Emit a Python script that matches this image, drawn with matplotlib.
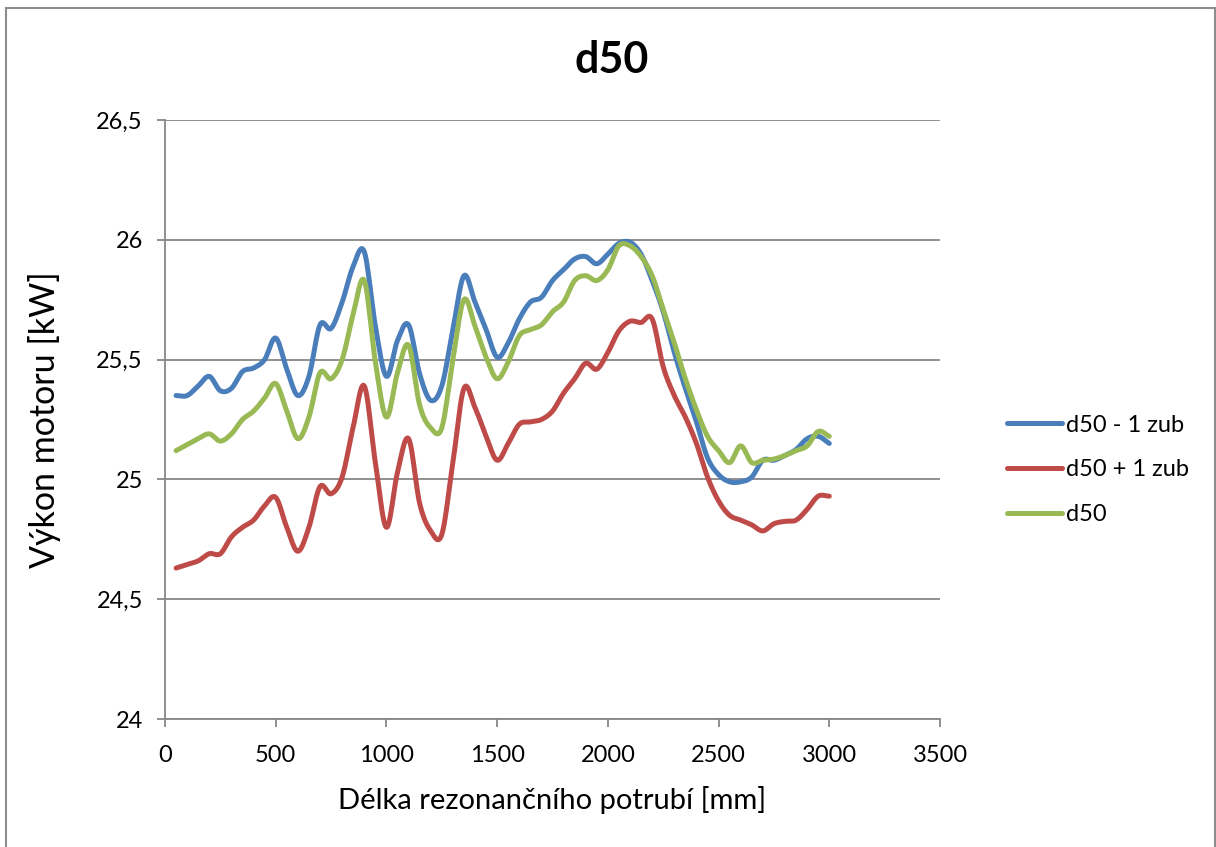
import numpy as np
import matplotlib
matplotlib.use("Agg")
import matplotlib.pyplot as plt
from matplotlib.patches import Rectangle

# Resonance pipe length [mm]
lengths = list(range(50, 3001, 50))

# Engine power [kW] for each variant
power_minus1 = [25.35, 25.35, 25.39, 25.43, 25.37, 25.38, 25.45, 25.465, 25.50, 25.59,
                25.46, 25.35, 25.43, 25.645, 25.63, 25.74, 25.89, 25.95, 25.64, 25.43,
                25.58, 25.645, 25.44, 25.33, 25.39, 25.625, 25.85, 25.74, 25.625, 25.51,
                25.57, 25.67, 25.74, 25.76, 25.83, 25.875, 25.92, 25.93, 25.90, 25.94,
                25.985, 25.99, 25.94, 25.83, 25.70, 25.53, 25.38, 25.24, 25.09, 25.02,
                24.99, 24.99, 25.01, 25.08, 25.08, 25.10, 25.125, 25.17, 25.18, 25.15]

power_plus1 = [24.63, 24.645, 24.66, 24.69, 24.69, 24.76, 24.80, 24.83, 24.89, 24.925,
               24.80, 24.70, 24.80, 24.97, 24.94, 25.01, 25.22, 25.39, 25.07, 24.80,
               25.03, 25.17, 24.90, 24.785, 24.77, 25.07, 25.38, 25.30, 25.18, 25.08,
               25.15, 25.23, 25.24, 25.25, 25.285, 25.36, 25.42, 25.485, 25.46, 25.53,
               25.62, 25.66, 25.655, 25.67, 25.47, 25.35, 25.26, 25.15, 25.01, 24.91,
               24.85, 24.83, 24.81, 24.785, 24.815, 24.825, 24.83, 24.875, 24.93, 24.93]

power_base = [25.12, 25.145, 25.17, 25.19, 25.16, 25.19, 25.25, 25.285, 25.34, 25.40,
              25.285, 25.17, 25.26, 25.445, 25.42, 25.50, 25.69, 25.83, 25.49, 25.26,
              25.445, 25.56, 25.31, 25.215, 25.215, 25.50, 25.75, 25.64, 25.51, 25.42,
              25.49, 25.60, 25.625, 25.645, 25.70, 25.74, 25.83, 25.85, 25.83, 25.875,
              25.975, 25.975, 25.93, 25.85, 25.71, 25.57, 25.42, 25.29, 25.18, 25.12,
              25.07, 25.14, 25.07, 25.08, 25.085, 25.10, 25.12, 25.14, 25.20, 25.18]

series_names = ["d50 - 1 zub", "d50 + 1 zub", "d50"]
series_colors = ["#4A7EBB", "#BE4B48", "#98B954"]

x_ticks = [0, 500, 1000, 1500, 2000, 2500, 3000, 3500]
y_ticks = [24, 24.5, 25, 25.5, 26, 26.5]
y_tick_labels = ["24", "24,5", "25", "25,5", "26", "26,5"]


def smooth(xs, ys, n=12):
    """Catmull-Rom spline through the points (smoothed line)."""
    xs = np.asarray(xs, float)
    ys = np.asarray(ys, float)
    px = np.concatenate([[2 * xs[0] - xs[1]], xs, [2 * xs[-1] - xs[-2]]])
    py = np.concatenate([[2 * ys[0] - ys[1]], ys, [2 * ys[-1] - ys[-2]]])
    outx, outy = [], []
    t = np.linspace(0, 1, n, endpoint=False)
    for i in range(1, len(px) - 2):
        for arr, out in ((px, outx), (py, outy)):
            p0, p1, p2, p3 = arr[i - 1], arr[i], arr[i + 1], arr[i + 2]
            out.extend(0.5 * ((2 * p1) + (-p0 + p2) * t
                              + (2 * p0 - 5 * p1 + 4 * p2 - p3) * t ** 2
                              + (-p0 + 3 * p1 - 3 * p2 + p3) * t ** 3))
    outx.append(xs[-1])
    outy.append(ys[-1])
    return np.array(outx), np.array(outy)


plt.rcParams["font.family"] = ["Lato", "DejaVu Sans"]

fig = plt.figure(figsize=(12.16, 8.47), dpi=100)
ax = fig.add_axes([165 / 1216, 1 - 719 / 847, 775 / 1216, 599 / 847])

for ys, name, col in zip([power_minus1, power_plus1, power_base], series_names, series_colors):
    sx, sy = smooth(lengths, ys)
    ax.plot(sx, sy, color=col, lw=3.6, label=name, solid_capstyle="round",
            solid_joinstyle="round")

ax.set_xlim(0, 3500)
ax.set_ylim(24, 26.5)
ax.set_xticks(x_ticks)
ax.set_xticklabels([str(v) for v in x_ticks])
ax.set_yticks(y_ticks)
ax.set_yticklabels(y_tick_labels)

grid_col = "#878787"
ax.yaxis.grid(True, color=grid_col, lw=1.3)
ax.set_axisbelow(True)
for side in ("top", "right"):
    ax.spines[side].set_visible(False)
for side in ("left", "bottom"):
    ax.spines[side].set_color(grid_col)
    ax.spines[side].set_linewidth(1.3)
ax.tick_params(axis="both", colors=grid_col, width=1.3, length=6, labelsize=17,
               labelcolor="black", direction="out")
ax.tick_params(axis="y", pad=10)
ax.tick_params(axis="x", pad=13)

ax.set_xlabel("Délka rezonančního potrubí [mm]", fontsize=21, va="center")
ax.xaxis.set_label_coords((552 - 165) / 775, (719 - 800) / 599)
ax.set_ylabel("Výkon motoru [kW]", fontsize=24.5, va="center", ha="center")
ax.yaxis.set_label_coords((45 - 165) / 775, 0.5)

fig.text(612 / 1216, 1 - 60 / 847, "d50", ha="center", va="center",
         fontsize=31, fontweight="bold")

leg = ax.legend(loc="center left", bbox_to_anchor=(1.074, 0.416), frameon=False,
                fontsize=17, handlelength=2.35, handletextpad=0.15, labelspacing=1.0,
                borderaxespad=0)
for h in leg.get_lines():
    h.set_linewidth(3.6)

# chart frame
fig.patches.append(Rectangle((6 / 1216, -0.05), 1209 / 1216, 1 - 8 / 847 + 0.05,
                             transform=fig.transFigure, fill=False,
                             edgecolor="#8c8c8c", lw=1.5))

fig.savefig("out.png", dpi=100)
